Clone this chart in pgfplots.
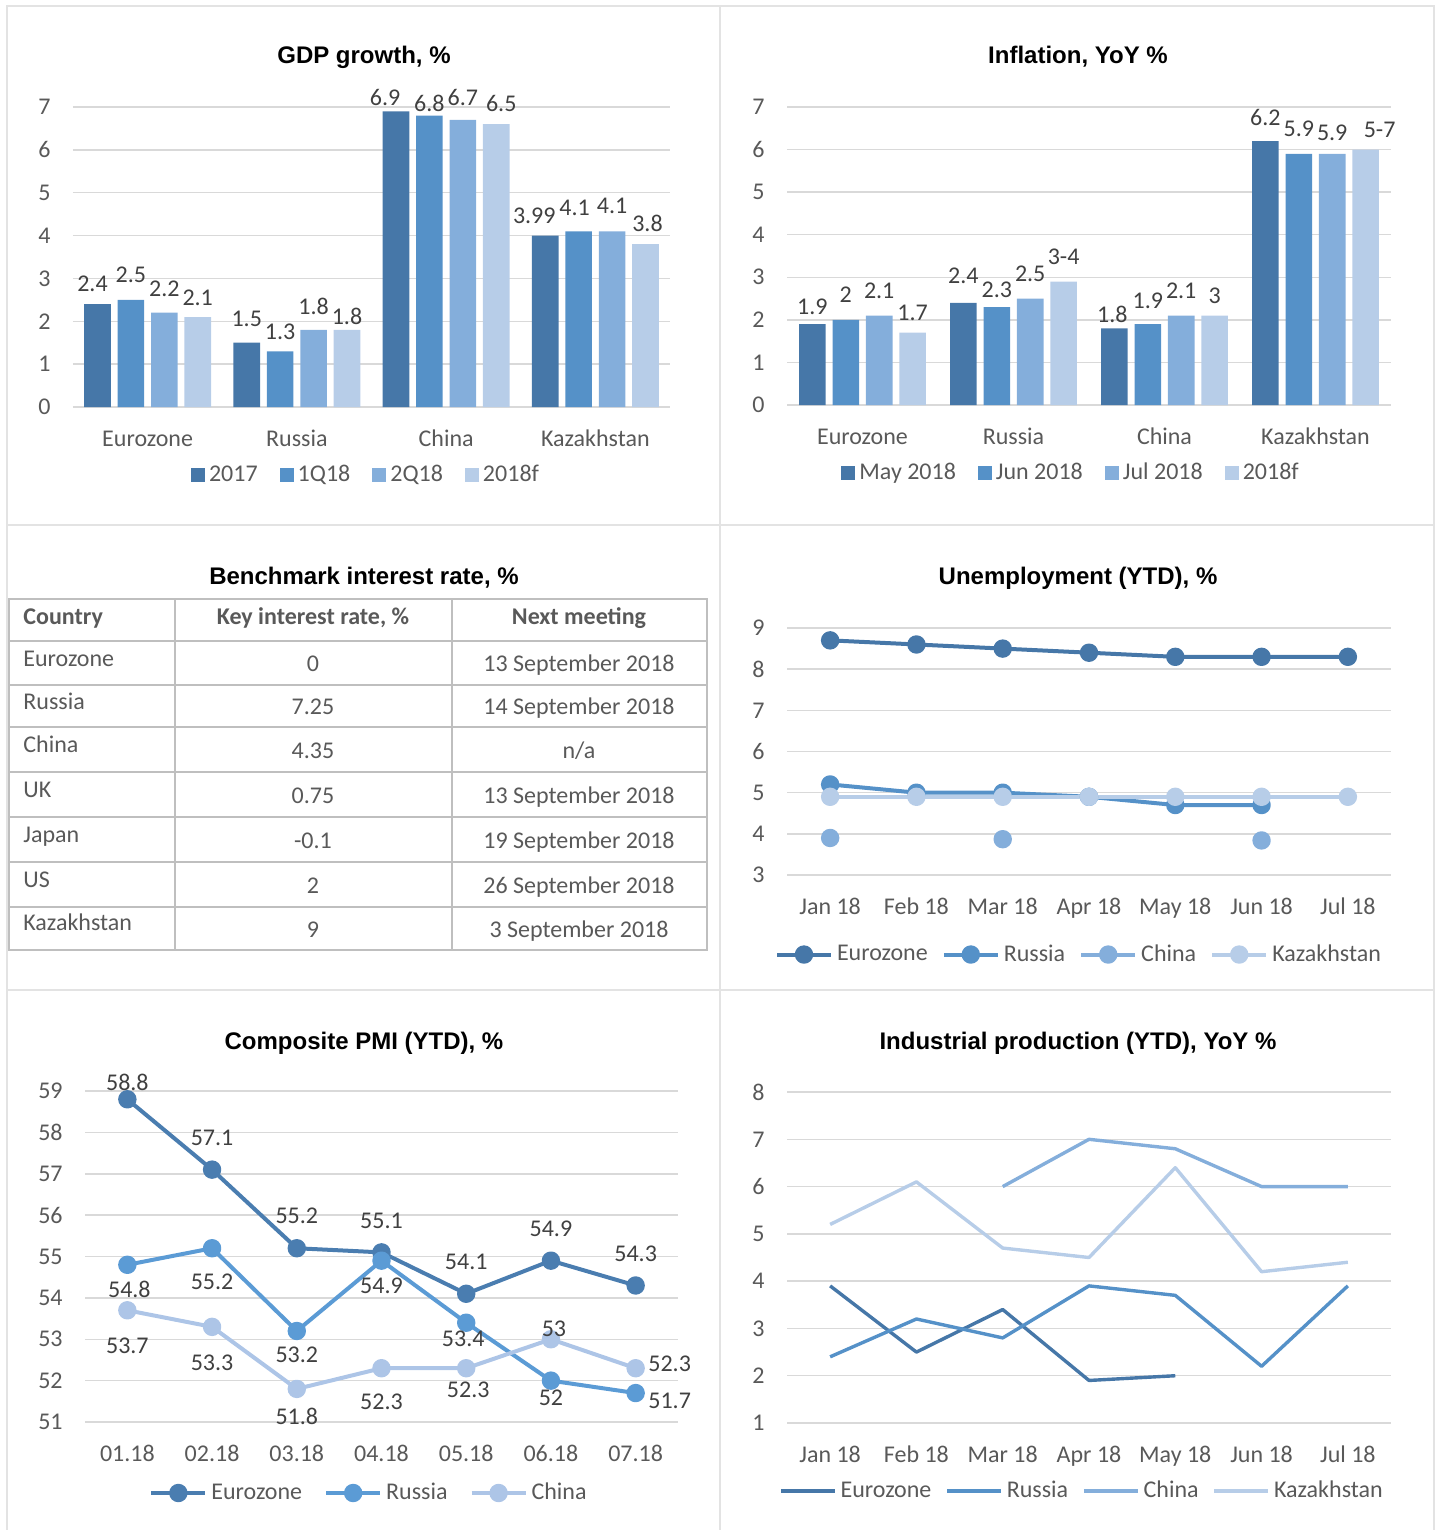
\documentclass[border=0pt]{standalone}
\usepackage{pgfplots}
\pgfplotsset{compat=1.18}
\usepackage{pgfplotstable}
\usepackage{fontspec}
\setmainfont{Carlito}
\newfontfamily\arialfont{Liberation Sans}
\newcommand\fs{\fontsize{12}{14}\selectfont}

\definecolor{cA}{HTML}{4677A8}
\definecolor{cB}{HTML}{5591C8}
\definecolor{cC}{HTML}{84AEDB}
\definecolor{cD}{HTML}{B7CDE8}
\definecolor{pA}{HTML}{4A7DB0}
\definecolor{pB}{HTML}{5B9BD5}
\definecolor{pC}{HTML}{ADC5E7}
\definecolor{txt}{HTML}{595959}
\definecolor{lbl}{HTML}{404040}
\definecolor{grd}{HTML}{D9D9D9}
\definecolor{frm}{HTML}{E3E3E3}
\definecolor{tbl}{HTML}{BFBFBF}

% dx, dy: offset of the data label from the point, in pt

% GDP growth, %
\pgfplotstableread{
x y lab dx dy
0 2.4 2.4 -2.5 10
1 1.5 1.5 0 12
2 6.9 6.9 -5.5 7
3 4.0 3.99 -5.5 10
}\gdpA
\pgfplotstableread{
x y lab dx dy
0 2.5 2.5 0 12.5
1 1.3 1.3 0 9.5
2 6.8 6.8 0 6.3
3 4.1 4.1 -2 11.5
}\gdpB
\pgfplotstableread{
x y lab dx dy
0 2.2 2.2 0 12
1 1.8 1.8 0 11.5
2 6.7 6.7 0 11
3 4.1 4.1 0 12.5
}\gdpC
\pgfplotstableread{
x y lab dx dy
0 2.1 2.1 0 9.5
1 1.8 1.8 0 6.5
2 6.6 6.5 2.5 10.5
3 3.8 3.8 1 10.5
}\gdpD

% Inflation, YoY %
\pgfplotstableread{
x y lab dx dy
0 1.9 1.9 0 8.5
1 2.4 2.4 0 13.5
2 1.8 1.8 -1 7
3 6.2 6.2 0 12
}\infA
\pgfplotstableread{
x y lab dx dy
0 2.0 2 0 12.5
1 2.3 2.3 0 8.5
2 1.9 1.9 0 11.5
3 5.9 5.9 0 12.5
}\infB
\pgfplotstableread{
x y lab dx dy
0 2.1 2.1 0 12.5
1 2.5 2.5 0 12.5
2 2.1 2.1 0 12.5
3 5.9 5.9 0 10.5
}\infC
\pgfplotstableread{
x y lab dx dy
0 1.7 1.7 0 10
1 2.9 3-4 0 12.5
2 2.1 3 0 10
3 6.0 5-7 7 10
}\infD

% Unemployment (YTD), %
\pgfplotstableread{
x ez ru cn kz
0 8.7 5.2 3.9 4.9
1 8.6 5.0 nan 4.9
2 8.5 5.0 3.87 4.9
3 8.4 4.9 nan 4.9
4 8.3 4.7 nan 4.9
5 8.3 4.7 3.84 4.9
6 8.3 nan nan 4.9
}\unemp

% Composite PMI (YTD), %
\pgfplotstableread{
x y lab dx dy
0 58.8 58.8 0 8.5
1 57.1 57.1 0 16
2 55.2 55.2 0 16
3 55.1 55.1 0 16
4 54.1 54.1 0 16
5 54.9 54.9 0 16
6 54.3 54.3 0 16
}\pmiEZ
\pgfplotstableread{
x y lab dx dy
0 54.8 54.8 1 -12.5
1 55.2 55.2 0 -17
2 53.2 53.2 0 -12
3 54.9 54.9 0 -12.5
4 53.4 53.4 -1.5 -8
5 52.0 52 0 -8.5
6 51.7 51.7 17 -4
}\pmiRU
\pgfplotstableread{
x y lab dx dy
0 53.7 53.7 0 -17.5
1 53.3 53.3 0 -18
2 51.8 51.8 0 -13.5
3 52.3 52.3 0 -17
4 52.3 52.3 1 -11
5 53.0 53 1.5 5
6 52.3 52.3 17 2
}\pmiCN

% Industrial production (YTD), YoY %
\pgfplotstableread{
x ez ru cn kz
0 3.9 2.4 nan 5.2
1 2.5 3.2 nan 6.1
2 3.4 2.8 6.0 4.7
3 1.9 3.9 7.0 4.5
4 2.0 3.7 6.8 6.4
5 nan 2.2 6.0 4.2
6 nan 3.9 6.0 4.4
}\indprod

\pgfplotsset{
  base/.style={
    scale only axis, clip=false, font=\fs,
    /pgf/number format/assume math mode=true,
    axis x line*=bottom, axis y line*=left,
    y axis line style={draw=none},
    x axis line style={draw=grd, line width=0.75pt},
    ymajorgrids, major grid style={draw=grd, line width=0.75pt},
    ytick style={draw=none},
    tick label style={font=\fs, text=txt},
    yticklabel style={anchor=east, inner sep=0pt, xshift=-11pt},
    xticklabel style={anchor=base, inner sep=0pt, yshift=-19.5pt},
    legend style={draw=none, fill=none, font=\fs, text=txt, anchor=center,
      legend columns=-1,
      /tikz/every even column/.append style={column sep=9pt}},
  },
  labels/.style={
    nodes near coords, point meta=explicit symbolic,
    visualization depends on={\thisrow{dx} \as \ldx},
    visualization depends on={\thisrow{dy} \as \ldy},
    every node near coord/.append style={anchor=center,
      xshift=\ldx pt, yshift=\ldy pt, text=lbl, font=\fs},
  },
  barax/.style={
    base, labels, ybar=3.4pt, bar width=13.3pt,
    xmin=-0.5, xmax=3.5, ymin=0, ymax=7, ytick={0,...,7},
    xtick={0,1,2,3}, major x tick style={draw=none},
    xticklabels={Eurozone,Russia,China,Kazakhstan},
    xticklabel style={yshift=4pt},
  },
  lineax/.style={
    base, xmin=-0.5, xmax=6.5, xtick={0,...,6},
    major x tick style={draw=none},
    extra x ticks={-0.5,0.5,...,6.5}, extra x tick labels={},
    extra x tick style={grid=none, tick align=outside,
      major tick length=5pt, tick style={draw=grd, line width=0.75pt}},
    unbounded coords=jump,
  },
  sqleg/.style={legend image code/.code={
    \fill[##1, draw=none] (0pt,-3.5pt) rectangle (7pt,3.5pt);}},
  mkleg/.style={legend image code/.code={
    \draw[mark repeat=2, mark phase=2, ##1] plot coordinates
      {(0pt,0pt) (13.5pt,0pt) (27pt,0pt)};}},
  lnleg/.style={legend image code/.code={
    \draw[##1] (0pt,0pt) -- (27pt,0pt);}},
  mk/.style={color=#1, line width=2pt, line join=round, mark=*,
    mark size=3.6pt, mark options={draw=none, fill=#1}, mkleg},
  ln/.style={color=#1, line width=1.7pt, line join=round, no markers, lnleg},
}

\begin{document}
\begin{tikzpicture}
% frame, titles and table in pixel units of the layout (1 px = 0.5pt, y downwards)
\begin{scope}[x=0.5pt,y=-0.5pt]
\path[use as bounding box] (0,0) rectangle (1437,1530);
\draw[frm, line width=0.75pt] (7,1530) -- (7,6) -- (1434,6) -- (1434,1530);
\draw[frm, line width=0.75pt] (720,6) -- (720,1530) (7,525) -- (1434,525) (7,990) -- (1434,990);

\begin{scope}[every node/.style={font=\arialfont\bfseries\fontsize{12}{14}\selectfont, anchor=base, text=black}]
\node at (364,64) {GDP growth, \%};
\node at (1078,64) {Inflation, YoY \%};
\node at (364,584) {Benchmark interest rate, \%};
\node at (1078,584) {Unemployment (YTD), \%};
\node at (364,1049) {Composite PMI (YTD), \%};
\node at (1078,1049) {Industrial production (YTD), YoY \%};
\end{scope}

% table
\draw[tbl, line width=1pt] (9,599) rectangle (707,950);
\foreach \yy in {641,685,727,772,817,862,907} \draw[tbl, line width=1pt] (9,\yy) -- (707,\yy);
\draw[tbl, line width=1pt] (175,599) -- (175,950) (452,599) -- (452,950);
\begin{scope}[every node/.style={font=\fs, text=txt, anchor=base, inner sep=0pt}]
\node[font=\fs\bfseries, anchor=base west] at (23,624) {Country};
\node[font=\fs\bfseries] at (313,624) {Key interest rate, \%};
\node[font=\fs\bfseries] at (579,624) {Next meeting};
\node[anchor=base west] at (23,666) {Eurozone};
\node at (313,671) {0};
\node at (579,671) {13 September 2018};
\node[anchor=base west] at (23,709) {Russia};
\node at (313,714) {7.25};
\node at (579,714) {14 September 2018};
\node[anchor=base west] at (23,752) {China};
\node at (313,758) {4.35};
\node at (579,758) {n/a};
\node[anchor=base west] at (23,797) {UK};
\node at (313,803) {0.75};
\node at (579,803) {13 September 2018};
\node[anchor=base west] at (23,842) {Japan};
\node at (313,848) {-0.1};
\node at (579,848) {19 September 2018};
\node[anchor=base west] at (23,887) {US};
\node at (313,893) {2};
\node at (579,893) {26 September 2018};
\node[anchor=base west] at (23,930) {Kazakhstan};
\node at (313,937) {9};
\node at (579,937) {3 September 2018};
\end{scope}
\end{scope}

% GDP growth
\begin{axis}[barax, at={(36.5pt,-203.5pt)}, anchor=south west, width=298.5pt, height=150pt,
  legend style={at={(0.4925,-0.227)}}]
\addplot[fill=cA, draw=none, sqleg] table[x=x,y=y,meta=lab]{\gdpA};
\addplot[fill=cB, draw=none, sqleg] table[x=x,y=y,meta=lab]{\gdpB};
\addplot[fill=cC, draw=none, sqleg] table[x=x,y=y,meta=lab]{\gdpC};
\addplot[fill=cD, draw=none, sqleg] table[x=x,y=y,meta=lab]{\gdpD};
\legend{2017,1Q18,2Q18,2018f}
\end{axis}

% Inflation
\begin{axis}[barax, at={(393.5pt,-202.5pt)}, anchor=south west, width=302pt, height=149pt,
  legend style={at={(0.472,-0.228)}}]
\addplot[fill=cA, draw=none, sqleg] table[x=x,y=y,meta=lab]{\infA};
\addplot[fill=cB, draw=none, sqleg] table[x=x,y=y,meta=lab]{\infB};
\addplot[fill=cC, draw=none, sqleg] table[x=x,y=y,meta=lab]{\infC};
\addplot[fill=cD, draw=none, sqleg] table[x=x,y=y,meta=lab]{\infD};
\legend{May 2018,Jun 2018,Jul 2018,2018f}
\end{axis}

% Unemployment
\begin{axis}[lineax, at={(393.5pt,-437.5pt)}, anchor=south west, width=302pt, height=123.5pt,
  ymin=3, ymax=9, ytick={3,...,9},
  xticklabels={Jan 18,Feb 18,Mar 18,Apr 18,May 18,Jun 18,Jul 18},
  legend style={at={(0.485,-0.322)},
    /tikz/every even column/.append style={column sep=5pt}}]
\addplot[mk=cA] table[x=x,y=ez]{\unemp};
\addplot[mk=cB] table[x=x,y=ru]{\unemp};
\addplot[mk=cC] table[x=x,y=cn]{\unemp};
\addplot[mk=cD] table[x=x,y=kz]{\unemp};
\legend{Eurozone,Russia,China,Kazakhstan}
\end{axis}

% Composite PMI
\begin{axis}[lineax, labels, at={(42.5pt,-711pt)}, anchor=south west, width=296.5pt, height=165.5pt,
  ymin=51, ymax=59, ytick={51,...,59},
  xticklabels={01.18,02.18,03.18,04.18,05.18,06.18,07.18},
  legend style={at={(0.4806,-0.2145)}}]
\addplot[mk=pA] table[x=x,y=y,meta=lab]{\pmiEZ};
\addplot[mk=pB] table[x=x,y=y,meta=lab]{\pmiRU};
\addplot[mk=pC] table[x=x,y=y,meta=lab]{\pmiCN};
\legend{Eurozone,Russia,China}
\end{axis}

% Industrial production
\begin{axis}[lineax, at={(393.5pt,-711.5pt)}, anchor=south west, width=302pt, height=165.5pt,
  ymin=1, ymax=8, ytick={1,...,8},
  xticklabels={Jan 18,Feb 18,Mar 18,Apr 18,May 18,Jun 18,Jul 18},
  legend style={at={(0.49,-0.2054)},
    /tikz/every even column/.append style={column sep=5pt}}]
\addplot[ln=cA] table[x=x,y=ez]{\indprod};
\addplot[ln=cB] table[x=x,y=ru]{\indprod};
\addplot[ln=cC] table[x=x,y=cn]{\indprod};
\addplot[ln=cD] table[x=x,y=kz]{\indprod};
\legend{Eurozone,Russia,China,Kazakhstan}
\end{axis}
\end{tikzpicture}
\end{document}
